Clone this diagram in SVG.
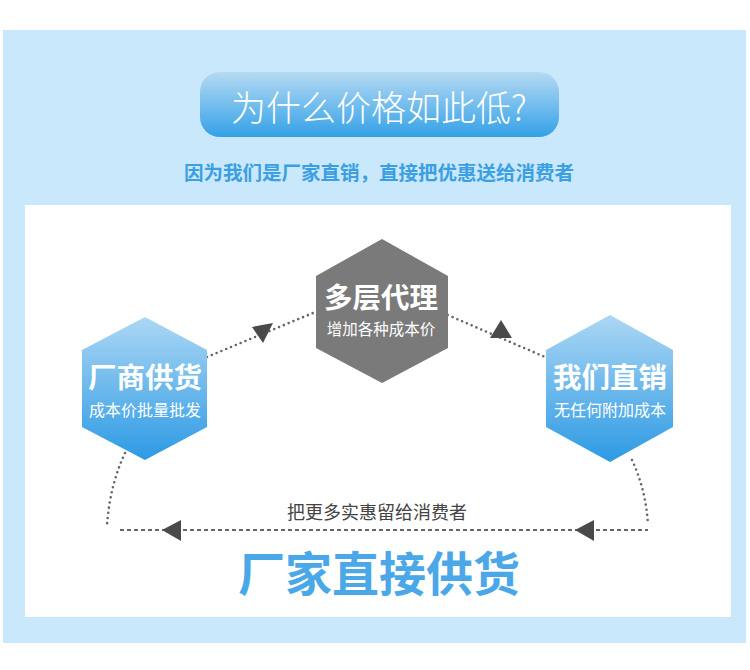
<svg xmlns="http://www.w3.org/2000/svg" width="750" height="670" viewBox="0 0 750 670">
<defs>
<linearGradient id="pill" x1="0" y1="0" x2="0" y2="1">
<stop offset="0" stop-color="#b6daf3"/>
<stop offset="1" stop-color="#33a1e7"/>
</linearGradient>
<linearGradient id="hexb" x1="0" y1="0" x2="0" y2="1">
<stop offset="0" stop-color="#acd7f4"/>
<stop offset="1" stop-color="#2d9ae4"/>
</linearGradient>
<style>
.cjk{font-family:"Noto Sans CJK SC","Noto Sans",sans-serif;}
.dots{fill:none;stroke:#666;stroke-width:2.6;stroke-linecap:round;stroke-dasharray:0 5.2;}
.dash{fill:none;stroke:#666;stroke-width:2;stroke-dasharray:4 3;}
.arr{fill:#4a4a4a;}
.big{fill:#fff;font-weight:bold;text-anchor:middle;}
.small{fill:#fff;text-anchor:middle;}
</style>
</defs>
<rect width="750" height="670" fill="#fff"/>
<rect x="3" y="30" width="743" height="613" fill="#c9e8fb"/>
<rect x="25" y="205" width="706" height="412" fill="#fff"/>

<g id="title">
<rect x="200" y="72" width="359" height="65" rx="20" fill="url(#pill)"/>
<text class="cjk" x="379" y="121" font-size="35" font-weight="300" fill="#fff" text-anchor="middle">为什么价格如此低?</text>
</g>
<g id="subtitle">
<text class="cjk" x="379" y="180" font-size="19.5" font-weight="bold" fill="#3b9fe2" text-anchor="middle">因为我们是厂家直销，直接把优惠送给消费者</text>
</g>

<g id="connectors">
<path class="dots" d="M207,357 L313,313"/>
<path class="dots" d="M443,313 L545,357"/>
<path class="dots" d="M125,453 Q110,485 107,525"/>
<path class="dots" d="M632,460 Q646,490 648,525"/>
<path class="dash" d="M120,530 L648,530"/>
<polygon class="arr" points="252,327 273,323 263,343"/>
<polygon class="arr" points="490,338 512,338 501,320"/>
<polygon class="arr" points="162,530 181,520 181,541"/>
<polygon class="arr" points="575,530 594,520 594,541"/>
</g>

<g id="node-left">
<polygon points="145,317 207,350 207,427 145,460 82,427 82,350" fill="url(#hexb)"/>
<text class="cjk big" x="145" y="388" font-size="28.5">厂商供货</text>
<text class="cjk small" x="145" y="416" font-size="16">成本价批量批发</text>
</g>
<g id="node-middle">
<polygon points="382,239 448,276 448,348 382,383 316,348 316,276" fill="#7a7a7a"/>
<text class="cjk big" x="381" y="308" font-size="28.5">多层代理</text>
<text class="cjk small" x="381" y="335" font-size="15.5">增加各种成本价</text>
</g>
<g id="node-right">
<polygon points="610,315 673,350 673,427 610,462 546,427 546,350" fill="url(#hexb)"/>
<text class="cjk big" x="610" y="388" font-size="28.5">我们直销</text>
<text class="cjk small" x="610" y="416" font-size="16">无任何附加成本</text>
</g>

<g id="bottom-label">
<text class="cjk" x="377" y="519" font-size="18" fill="#444" text-anchor="middle">把更多实惠留给消费者</text>
</g>
<g id="headline">
<text class="cjk" x="379" y="591" font-size="47" font-weight="bold" fill="#4aa8e8" text-anchor="middle">厂家直接供货</text>
</g>
</svg>
